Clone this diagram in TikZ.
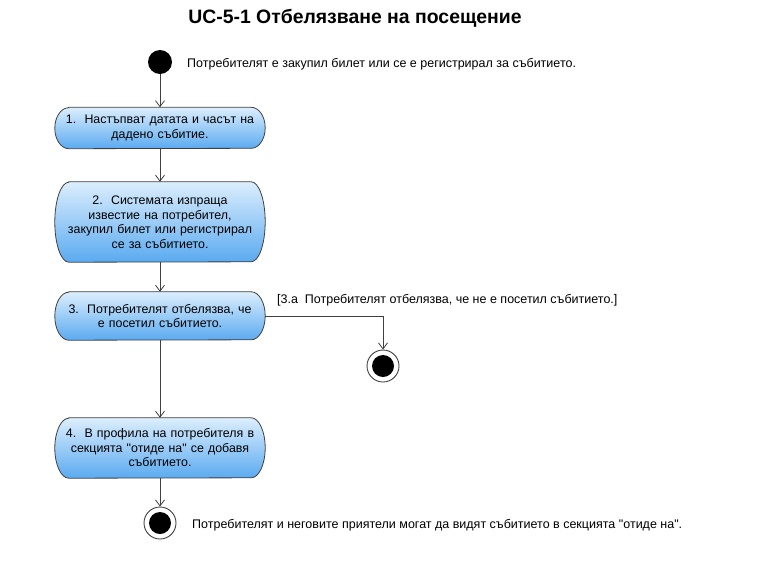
\documentclass[tikz,border=0pt]{standalone}
\usepackage{fontspec}
\setmainfont{Liberation Sans}[Ligatures=TeXOff]
\usetikzlibrary{arrows.meta,backgrounds,calc}
\definecolor{edgec}{HTML}{404040}
\definecolor{topc}{HTML}{DCEEFD}
\definecolor{botc}{HTML}{5AAAF0}
\tikzset{
 act/.style={minimum width=210pt, text width=206pt, align=center, inner sep=0pt, font=\fontsize{12.4}{14.5}\selectfont},
 flow/.style={draw=edgec, line width=0.8pt, -{Straight Barb[length=6pt,width=9pt]}},
 actshape/.style={draw=edgec, line width=0.8pt, top color=topc, bottom color=botc},
 lbl/.style={font=\fontsize{12.5}{14}\selectfont, inner sep=0pt, anchor=west},
 startst/.style={circle, fill=black, minimum size=24pt, inner sep=0pt},
 endst/.style={circle, draw=edgec, fill=white, line width=0.9pt, minimum size=32pt, inner sep=0pt}
}
\newcommand\actbg[2]{\path[actshape] ($(#1.north west)+(14,0)$) -- ($(#1.north east)+(-14,0)$) arc[start angle=90,end angle=-90,x radius=14pt,y radius=#2pt] -- ($(#1.south west)+(14,0)$) arc[start angle=270,end angle=90,x radius=14pt,y radius=#2pt] -- cycle;}
\begin{document}
\begin{tikzpicture}[x=1pt,y=-1pt]
\useasboundingbox (0,0) rectangle (771,560);
\node[font=\fontsize{19.4}{22}\selectfont\bfseries] (title) at (355,18) {UC-5-1 Отбелязване на посещение};
\node[startst] (start) at (160,62) {};
\node[lbl] (startlbl) at (187,64) {Потребителят е закупил билет или се е регистрирал за събитието.};
\node[act, minimum height=41pt] (n1) at (160,128) {1.\ \ Настъпват датата и часът на\\ дадено събитие.};
\node[act, minimum height=80pt] (n2) at (160,222) {2.\ \ Системата изпраща\\ известие на потребител,\\ закупил билет или регистрирал\\ се за събитието.};
\node[act, minimum height=48pt] (n3) at (160,316) {3.\ \ Потребителят отбелязва, че\\ е посетил събитието.};
\node[act, minimum height=60pt] (n4) at (160,448) {4.\ \ В профила на потребителя в\\ секцията "отиде на" се добавя\\ събитието.};
\node[endst] (end1) at (383,366) {};
\fill (end1) circle (11pt);
\node[endst] (end2) at (160,523) {};
\fill (end2) circle (11pt);
\node[lbl] (guard) at (277,300) {[3.a\ \ Потребителят отбелязва, че не е посетил събитието.]};
\node[lbl] (endlbl) at (192,525) {Потребителят и неговите приятели могат да видят събитието в секцията "отиде на".};
\begin{scope}[on background layer]
\actbg{n1}{20.5}
\actbg{n2}{40}
\actbg{n3}{24}
\actbg{n4}{30}
\end{scope}
\draw[flow] (start) -- (n1);
\draw[flow] (n1) -- (n2);
\draw[flow] (n2) -- (n3);
\draw[flow] (n3) -- (n4);
\draw[flow] (n4) -- (end2);
\draw[flow] (n3.east) -| (end1);
\end{tikzpicture}
\end{document}
